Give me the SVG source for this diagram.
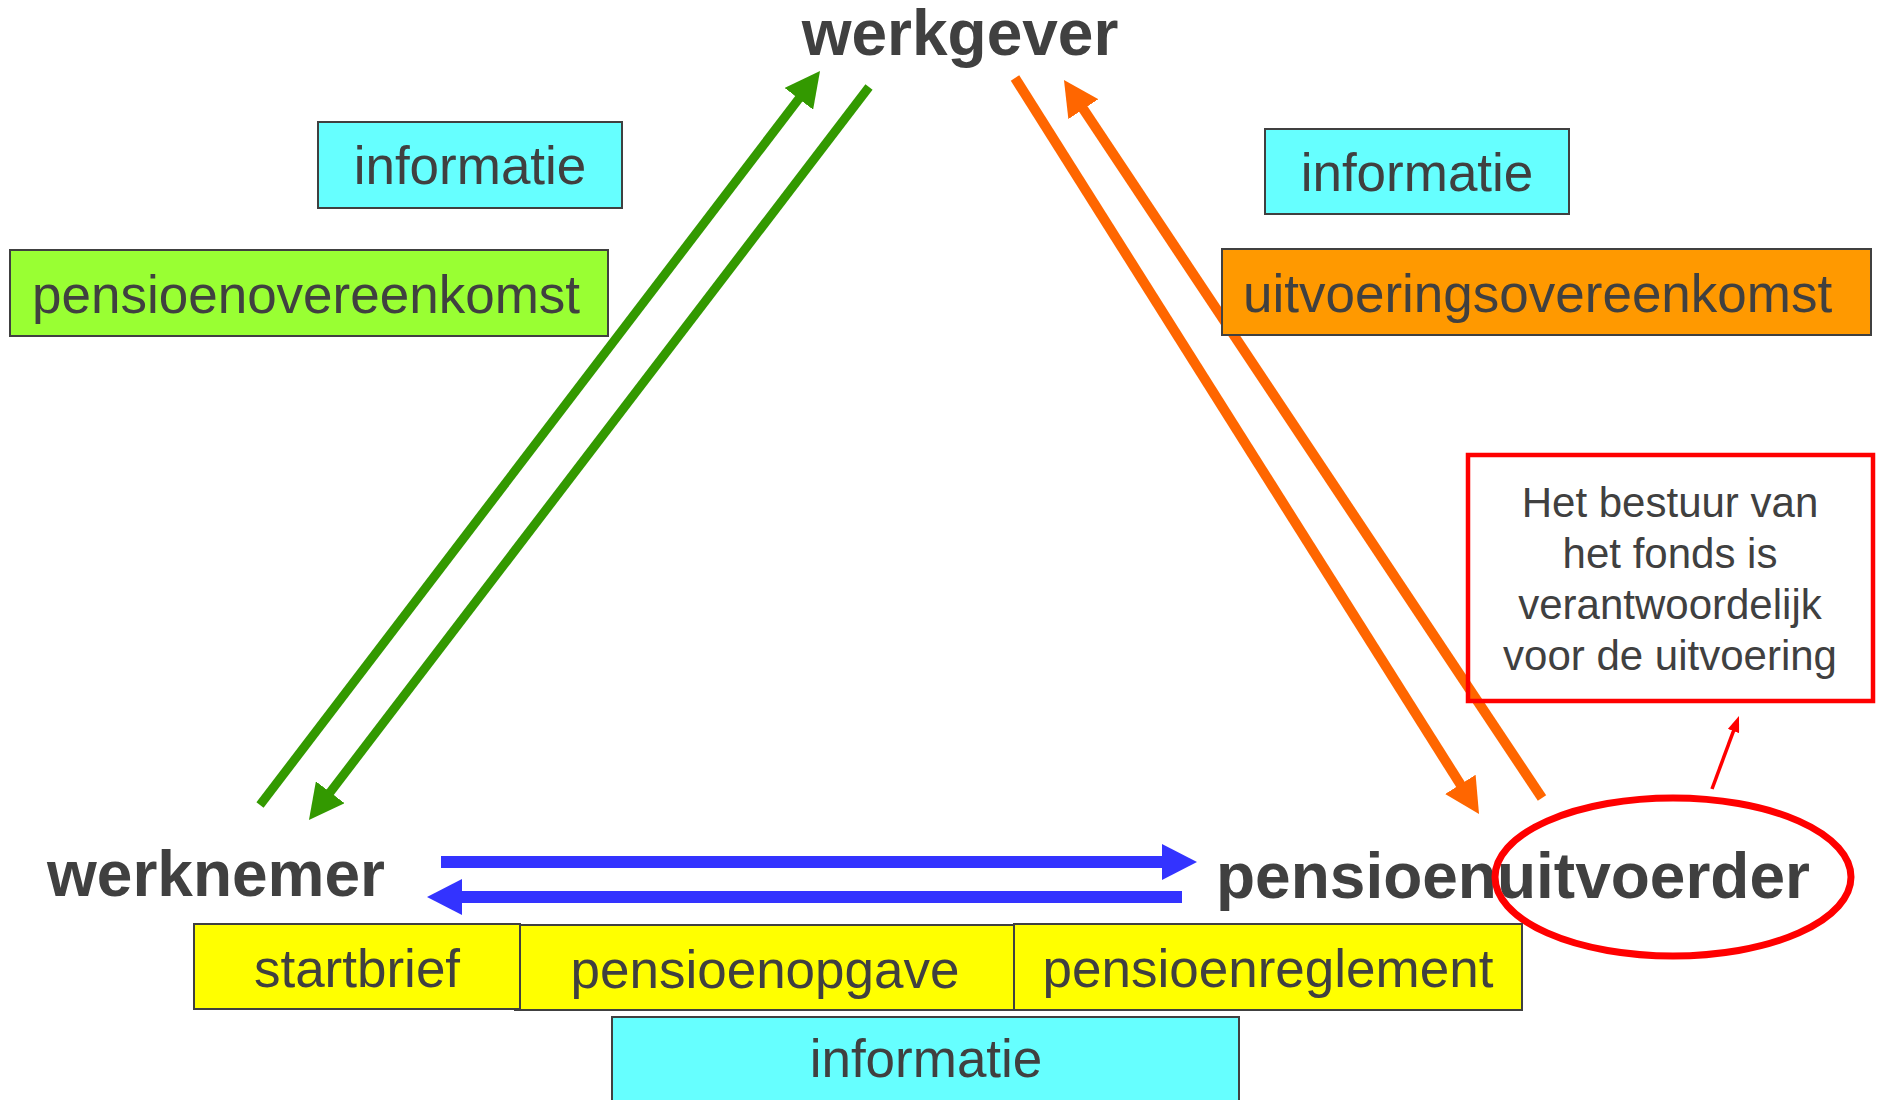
<svg xmlns="http://www.w3.org/2000/svg" width="1887" height="1100" viewBox="0 0 1887 1100">
<style>
.title{font-family:"Liberation Sans",Arial,sans-serif;font-weight:bold;font-size:64px;fill:#404040}
.lbl{font-family:"Liberation Sans",Arial,sans-serif;font-size:53px;fill:#404040}
.note{font-family:"Liberation Sans",Arial,sans-serif;font-size:42px;fill:#404040;text-anchor:middle}
.box{stroke:#404040;stroke-width:2}
.cyan{fill:#66FFFF}.lime{fill:#99FF33}.orng{fill:#FF9900}.yel{fill:#FFFF00}
.g{stroke:#339900;stroke-width:9;fill:none}
.o{stroke:#FF6600;stroke-width:10;fill:none}
.b{stroke:#3333FF;stroke-width:12;fill:none}
.r{stroke:#FF0000;stroke-width:3.5;fill:none}
</style>
<defs>
<marker id="hg" markerUnits="userSpaceOnUse" viewBox="0 0 35 36" markerWidth="35" markerHeight="36" refX="1" refY="18" orient="auto"><path d="M0,0 L35,18 L0,36 z" fill="#339900"/></marker>
<marker id="ho" markerUnits="userSpaceOnUse" viewBox="0 0 35 36" markerWidth="35" markerHeight="36" refX="1" refY="18" orient="auto"><path d="M0,0 L35,18 L0,36 z" fill="#FF6600"/></marker>
<marker id="hb" markerUnits="userSpaceOnUse" viewBox="0 0 35 36" markerWidth="35" markerHeight="36" refX="1" refY="18" orient="auto"><path d="M0,0 L35,18 L0,36 z" fill="#3333FF"/></marker>
<marker id="hr" markerUnits="userSpaceOnUse" viewBox="0 0 16 12" markerWidth="16" markerHeight="12" refX="1" refY="6" orient="auto"><path d="M0,0 L16,6 L0,12 z" fill="#FF0000"/></marker>
</defs>
<rect width="1887" height="1100" fill="#FFFFFF"/>
<g id="connectors">
<line class="g" x1="260" y1="805" x2="799.4" y2="98" marker-end="url(#hg)"/>
<line class="g" x1="869" y1="87" x2="329.6" y2="793" marker-end="url(#hg)"/>
<line class="o" x1="1015" y1="78" x2="1460.9" y2="785.2" marker-end="url(#ho)"/>
<line class="o" x1="1542" y1="798" x2="1082.8" y2="108.3" marker-end="url(#ho)"/>
<line class="b" x1="441" y1="862" x2="1163" y2="862" marker-end="url(#hb)"/>
<line class="b" x1="1182" y1="897" x2="461" y2="897" marker-end="url(#hb)"/>
<line class="r" x1="1712" y1="789" x2="1733.8" y2="730.1" marker-end="url(#hr)"/>
</g>
<g id="werkgever"><text class="title" x="960" y="55" text-anchor="middle">werkgever</text></g>
<g id="werknemer"><text class="title" x="47" y="896">werknemer</text></g>
<g id="pensioenuitvoerder"><text class="title" x="1216" y="898">pensioenuitvoerder</text></g>
<g id="highlight"><ellipse cx="1673" cy="877" rx="178" ry="79" fill="none" stroke="#FF0000" stroke-width="7"/></g>
<g id="informatie-1"><rect class="box cyan" x="318" y="122" width="304" height="86"/><text class="lbl" x="470" y="184" text-anchor="middle">informatie</text></g>
<g id="pensioenovereenkomst"><rect class="box lime" x="10" y="250" width="598" height="86"/><text class="lbl" x="32" y="313">pensioenovereenkomst</text></g>
<g id="informatie-2"><rect class="box cyan" x="1265" y="129" width="304" height="85"/><text class="lbl" x="1417" y="191" text-anchor="middle">informatie</text></g>
<g id="uitvoeringsovereenkomst"><rect class="box orng" x="1222" y="249" width="649" height="86"/><text class="lbl" x="1243" y="312">uitvoeringsovereenkomst</text></g>
<g id="pensioenopgave"><rect class="box yel" x="515" y="925" width="499" height="85"/><text class="lbl" x="765" y="988" text-anchor="middle">pensioenopgave</text></g>
<g id="startbrief"><rect class="box yel" x="194" y="924" width="326" height="85"/><text class="lbl" x="357" y="987" text-anchor="middle">startbrief</text></g>
<g id="pensioenreglement"><rect class="box yel" x="1014" y="924" width="508" height="86"/><text class="lbl" x="1268" y="987" text-anchor="middle">pensioenreglement</text></g>
<g id="informatie-3"><rect class="box cyan" x="612" y="1017" width="627" height="90"/><text class="lbl" x="926" y="1077" text-anchor="middle">informatie</text></g>
<g id="bestuur-note"><rect x="1468" y="455" width="405" height="246" fill="none" stroke="#FF0000" stroke-width="4.5"/>
<text class="note" x="1670" y="517">Het bestuur van</text>
<text class="note" x="1670" y="568">het fonds is</text>
<text class="note" x="1670" y="619">verantwoordelijk</text>
<text class="note" x="1670" y="670">voor de uitvoering</text></g>
</svg>
